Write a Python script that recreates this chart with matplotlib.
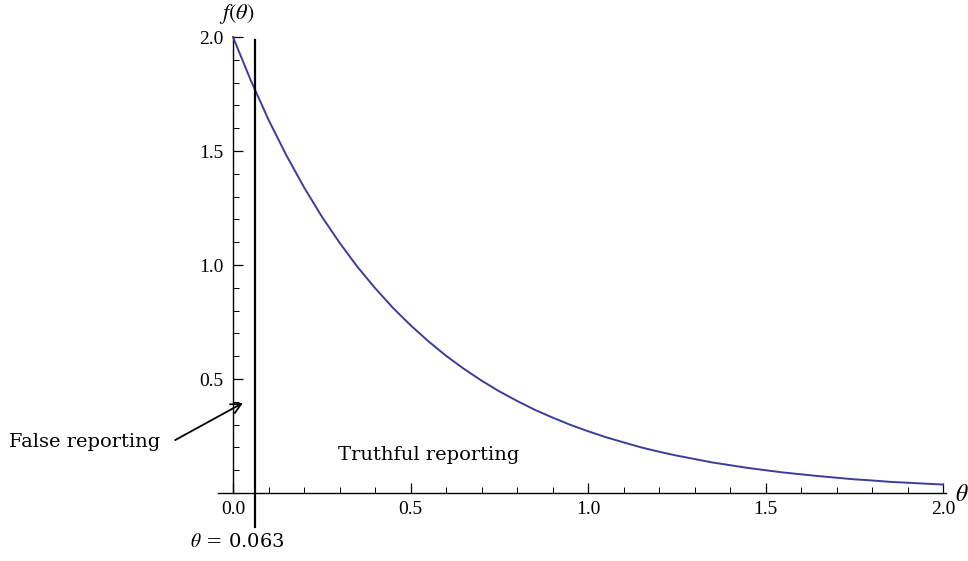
import matplotlib
matplotlib.use("Agg")
import matplotlib.pyplot as plt
from matplotlib.ticker import MultipleLocator, FixedLocator

# Values
theta = [0.00, 0.05, 0.10, 0.15, 0.20, 0.25, 0.30, 0.35, 0.40, 0.45,
         0.50, 0.55, 0.60, 0.65, 0.70, 0.75, 0.80, 0.85, 0.90, 0.95,
         1.00, 1.05, 1.10, 1.15, 1.20, 1.25, 1.30, 1.35, 1.40, 1.45,
         1.50, 1.55, 1.60, 1.65, 1.70, 1.75, 1.80, 1.85, 1.90, 1.95, 2.00]
f_theta = [2.000, 1.810, 1.637, 1.482, 1.341, 1.213, 1.098, 0.993, 0.899, 0.813,
           0.736, 0.666, 0.602, 0.545, 0.493, 0.446, 0.404, 0.365, 0.331, 0.299,
           0.271, 0.245, 0.222, 0.200, 0.181, 0.164, 0.149, 0.134, 0.122, 0.110,
           0.100, 0.090, 0.082, 0.074, 0.067, 0.060, 0.055, 0.049, 0.045, 0.041, 0.037]
threshold = 0.063
x_ticks = [0.0, 0.5, 1.0, 1.5, 2.0]
x_ticklabels = ["0.0", "0.5", "1.0", "1.5", "2.0"]
y_ticks = [0.5, 1.0, 1.5, 2.0]
y_ticklabels = ["0.5", "1.0", "1.5", "2.0"]

plt.rcParams['font.family'] = ['DejaVu Serif']
plt.rcParams['mathtext.fontset'] = 'stix'

fig = plt.figure(figsize=(9.68, 5.61), dpi=100)
ax = fig.add_axes([218/968, (561-493)/561, 728/968, 456/561])
ax.set_xlim((218-233)/355, (946-233)/355)
ax.set_ylim(0, 2.0)

ax.plot(theta, f_theta, color='#3d3d99', lw=1.4, clip_on=False, zorder=3,
        solid_joinstyle='round')

ax.spines['right'].set_visible(False)
ax.spines['top'].set_visible(False)
ax.spines['left'].set_position(('data', 0))
ax.spines['bottom'].set_position(('data', 0))
for s in ('left', 'bottom'):
    ax.spines[s].set_linewidth(1.0)

ax.xaxis.set_major_locator(FixedLocator(x_ticks))
ax.set_xticklabels(x_ticklabels, family='Liberation Serif')
ax.xaxis.set_minor_locator(MultipleLocator(0.1))
ax.yaxis.set_major_locator(FixedLocator(y_ticks))
ax.set_yticklabels(y_ticklabels, family='Liberation Serif')
ax.yaxis.set_minor_locator(FixedLocator([0.1, 0.2, 0.3, 0.4, 0.6, 0.7, 0.8, 0.9,
                                          1.1, 1.2, 1.3, 1.4, 1.6, 1.7, 1.8, 1.9]))
ax.tick_params(which='major', direction='in', length=7, width=0.9, labelsize=14, pad=6)
ax.tick_params(which='minor', direction='in', length=4, width=0.7)
ax.tick_params(axis='y', which='major', pad=7)

# vertical threshold line
ax.plot([threshold, threshold], [-0.149, 1.987], color='black', lw=1.6,
        clip_on=False, zorder=4)
ax.text(0.011, -0.215, r"$\theta$ = 0.063", ha='center', va='center', fontsize=14)

ax.text(0.01, 2.1, r"$f(\theta)$", ha='center', va='center', fontsize=16)
ax.text(2.034, -0.005, r"$\theta$", ha='left', va='center', fontsize=17)

ax.annotate("", xy=(0.028, 0.395), xytext=(-0.163, 0.232),
            arrowprops=dict(arrowstyle='->', color='black', lw=1.3,
                            shrinkA=0, shrinkB=0, mutation_scale=18),
            annotation_clip=False)
ax.text(-0.206, 0.224, "False reporting", ha='right', va='center', fontsize=14)
ax.text(0.55, 0.165, "Truthful reporting", ha='center', va='center', fontsize=14)

fig.savefig("out.png", dpi=100)
